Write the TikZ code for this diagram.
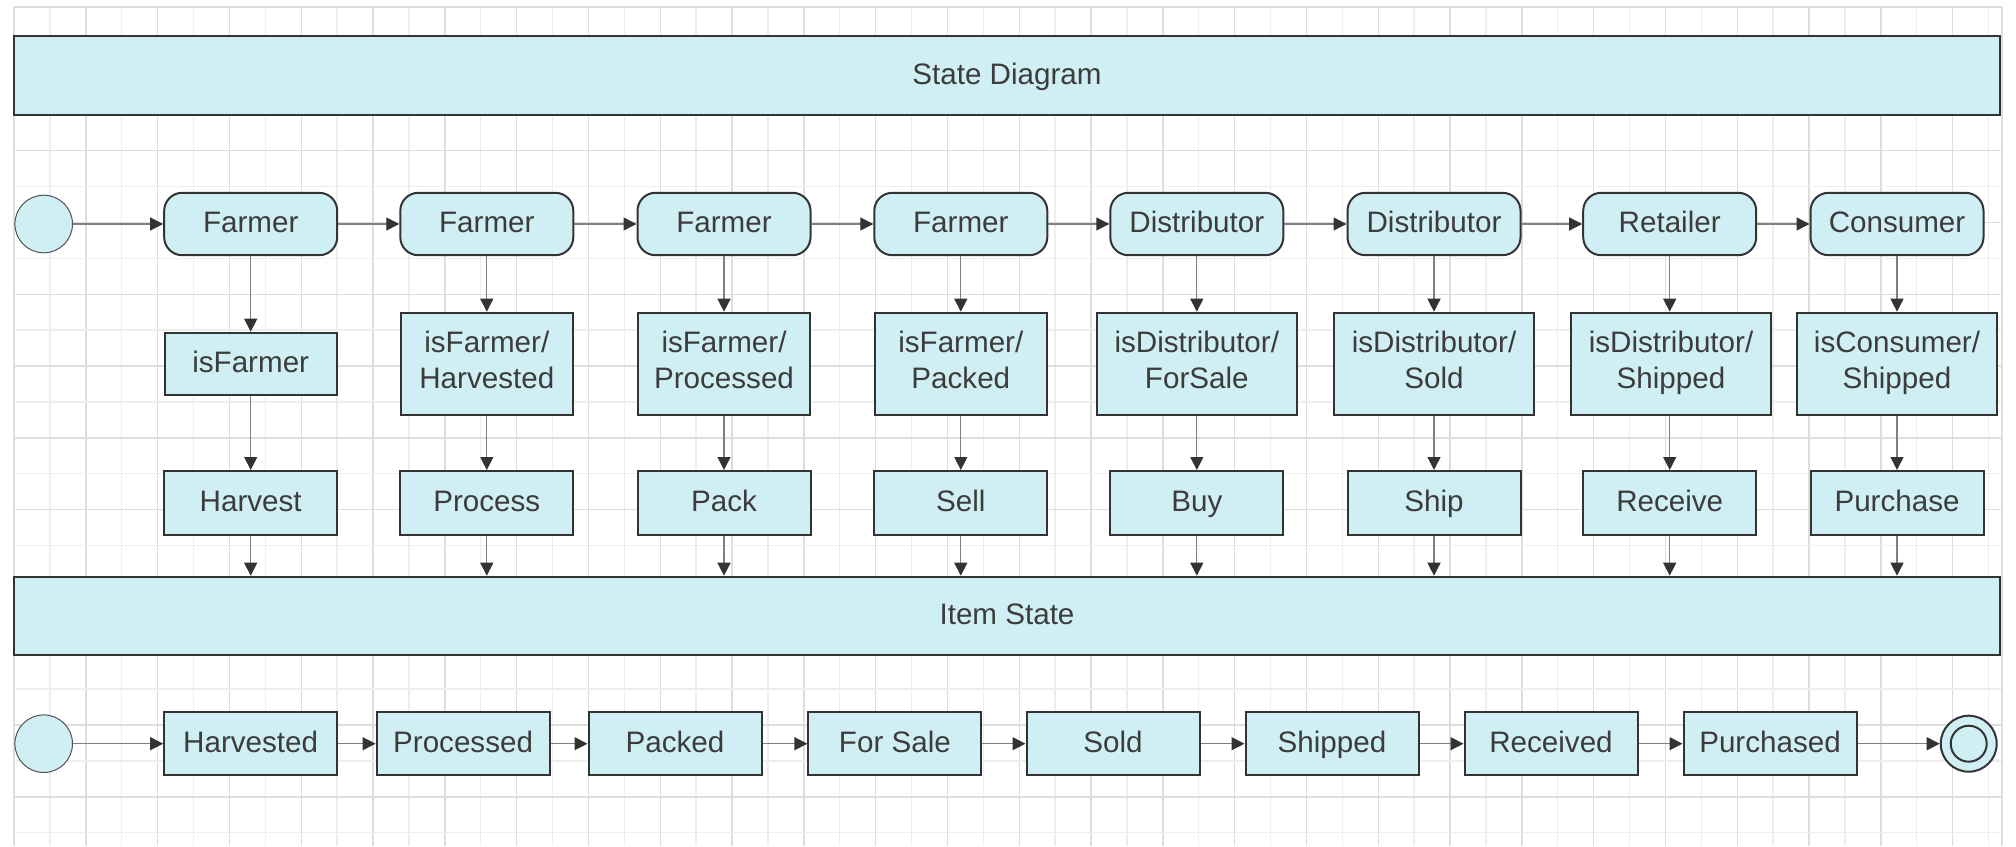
\documentclass[tikz,border=0pt]{standalone}
\usepackage{fontspec}
\setmainfont{Liberation Sans}
\usetikzlibrary{arrows.meta}
\definecolor{boxfill}{RGB}{208,239,244}
\definecolor{boxdraw}{RGB}{51,51,51}
\definecolor{txtc}{RGB}{60,60,60}
\definecolor{linec}{RGB}{128,128,128}
\definecolor{tipc}{RGB}{51,51,51}
\definecolor{gridmajor}{RGB}{221,221,221}
\definecolor{gridminor}{RGB}{238,238,238}
\newcommand\mystrut{\rule[-4.5pt]{0pt}{17.8pt}}
\tikzset{
  base/.style={draw=boxdraw, line width=1pt, fill=boxfill, text=txtc, inner sep=0pt,
    font=\fontsize{14.8}{18}\selectfont, align=center,
    execute at begin node=\mystrut, execute at end node=\mystrut},
  statebox/.style={base, rounded corners=9pt, minimum width=86.5pt, minimum height=31.2pt},
  guardone/.style={base, rectangle, minimum width=86pt, minimum height=31.2pt},
  guardtwo/.style={base, rectangle, minimum width=86pt, minimum height=51.2pt},
  guardwide/.style={base, rectangle, minimum width=100pt, minimum height=51.2pt},
  actbox/.style={base, rectangle, minimum width=86.5pt, minimum height=32pt},
  itembox/.style={base, rectangle, minimum width=86.5pt, minimum height=31.3pt},
  bigbox/.style={base, rectangle, minimum width=993pt, minimum height=39.3pt},
  initstate/.style={circle, draw=boxdraw!85, line width=0.5pt, fill=boxfill, minimum size=28.8pt, inner sep=0pt},
  finalstate/.style={circle, draw=boxdraw, line width=1pt, fill=boxfill, minimum size=28pt, inner sep=0pt},
  innerstate/.style={circle, draw=boxdraw, line width=1pt, fill=boxfill, minimum size=18pt, inner sep=0pt},
  arr/.style={draw=linec, line width=0.65pt, -{Triangle[length=6.5pt,width=6.5pt,color=tipc]}},
}
\begin{document}
\begin{tikzpicture}[x=0.5pt, y=-0.5pt]
\useasboundingbox (0,0) rectangle (2016,846);
% grid
\foreach \k in {0,...,55}{%
  \ifodd\k \def\gc{gridminor}\else\def\gc{gridmajor}\fi
  \draw[\gc, line width=0.7pt] ({14+35.9*\k},7) -- ({14+35.9*\k},846);
}
\foreach \k in {0,...,23}{%
  \ifodd\k \def\gc{gridminor}\else\def\gc{gridmajor}\fi
  \draw[\gc, line width=0.7pt] (14,{7+35.9*\k}) -- (2002,{7+35.9*\k});
}
\draw[gridmajor, line width=0.7pt] (2002,7) -- (2002,846);

% title
\node[bigbox] (title) at (1007,75.5) {State Diagram};

% top row
\node[initstate] (s1) at (43.7,224) {};
\node[statebox] (f1) at (250.7,224) {Farmer};
\node[statebox] (f2) at (486.8,224) {Farmer};
\node[statebox] (f3) at (724,224) {Farmer};
\node[statebox] (f4) at (960.8,224) {Farmer};
\node[statebox] (f5) at (1196.8,224) {Distributor};
\node[statebox] (f6) at (1434,224) {Distributor};
\node[statebox] (f7) at (1669.7,224) {Retailer};
\node[statebox] (f8) at (1897,224) {Consumer};

% guards
\node[guardone] (g1) at (250.7,363.9) {isFarmer};
\node[guardtwo] (g2) at (486.8,363.9) {isFarmer/\\Harvested};
\node[guardtwo] (g3) at (724,363.9) {isFarmer/\\Processed};
\node[guardtwo] (g4) at (960.8,363.9) {isFarmer/\\Packed};
\node[guardwide] (g5) at (1196.8,363.9) {isDistributor/\\ForSale};
\node[guardwide] (g6) at (1434,363.9) {isDistributor/\\Sold};
\node[guardwide] (g7) at (1671,363.9) {isDistributor/\\Shipped};
\node[guardwide] (g8) at (1897,363.9) {isConsumer/\\Shipped};

% actions
\node[actbox] (a1) at (250.7,503) {Harvest};
\node[actbox] (a2) at (486.8,503) {Process};
\node[actbox] (a3) at (724,503) {Pack};
\node[actbox] (a4) at (960.8,503) {Sell};
\node[actbox] (a5) at (1196.8,503) {Buy};
\node[actbox] (a6) at (1434,503) {Ship};
\node[actbox] (a7) at (1669.7,503) {Receive};
\node[actbox] (a8) at (1897,503) {Purchase};

% item state
\node[bigbox] (item) at (1007,616) {Item State};

% bottom row
\node[initstate] (s2) at (43.7,743.7) {};
\node[itembox] (b1) at (250.7,743.7) {Harvested};
\node[itembox] (b2) at (463.1,743.7) {Processed};
\node[itembox] (b3) at (675,743.7) {Packed};
\node[itembox] (b4) at (894.9,743.7) {For Sale};
\node[itembox] (b5) at (1113,743.7) {Sold};
\node[itembox] (b6) at (1332,743.7) {Shipped};
\node[itembox] (b7) at (1551,743.7) {Received};
\node[itembox] (b8) at (1770,743.7) {Purchased};
\node[finalstate] (e) at (1968.7,743.7) {};
\node[innerstate] (ei) at (e.center) {};

% connectors top row
\draw[arr] (s1) -- (f1);
\foreach \i/\j in {1/2,2/3,3/4,4/5,5/6,6/7,7/8}{\draw[arr] (f\i) -- (f\j);}
% verticals
\foreach \i in {1,...,8}{
  \draw[arr] (f\i.south) -- (f\i.south |- g\i.north);
  \draw[arr] (g\i.south -| a\i.north) -- (a\i.north);
  \draw[arr] (a\i.south) -- (a\i.south |- item.north);
}
% bottom row
\draw[arr] (s2) -- (b1);
\foreach \i/\j in {1/2,2/3,3/4,4/5,5/6,6/7,7/8}{\draw[arr] (b\i) -- (b\j);}
\draw[arr] (b8) -- (e);
\end{tikzpicture}
\end{document}
